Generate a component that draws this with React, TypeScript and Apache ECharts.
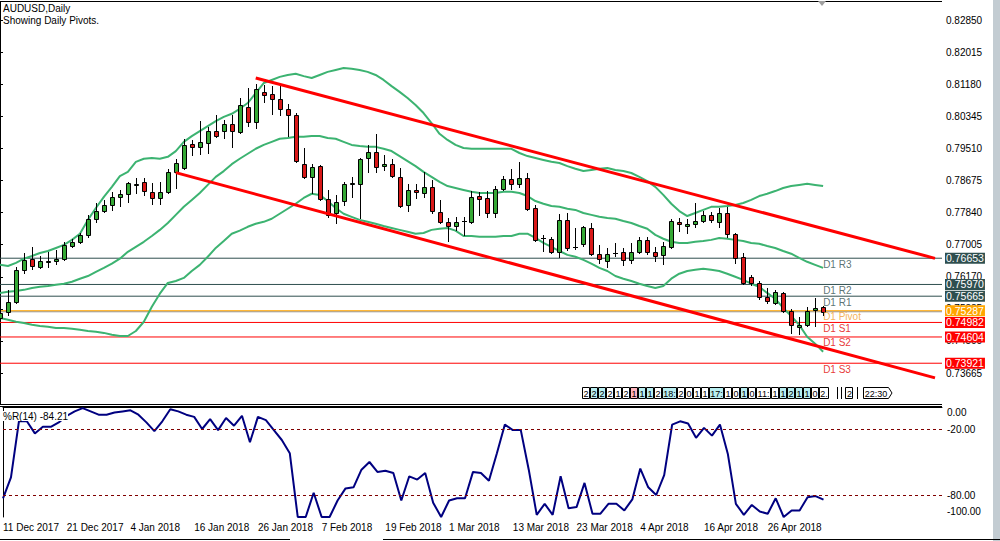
import { useEffect, useRef } from "react";
import * as echarts from "echarts";

const MONTHS = [
  { m: "Dec", y: 2017, days: [11, 12, 13, 14, 15, 18, 19, 20, 21, 22, 26, 27, 28, 29] },
  { m: "Jan", y: 2018, days: [2, 3, 4, 5, 8, 9, 10, 11, 12, 15, 16, 17, 18, 19, 22, 23, 24, 25, 26, 29, 30, 31] },
  { m: "Feb", y: 2018, days: [1, 2, 5, 6, 7, 8, 9, 12, 13, 14, 15, 16, 19, 20, 21, 22, 23, 26, 27, 28] },
  { m: "Mar", y: 2018, days: [1, 2, 5, 6, 7, 8, 9, 12, 13, 14, 15, 16, 19, 20, 21, 22, 23, 26, 27, 28, 29, 30] },
  { m: "Apr", y: 2018, days: [2, 3, 4, 5, 6, 9, 10, 11, 12, 13, 16, 17, 18, 19, 20, 23, 24, 25, 26, 27, 30] },
  { m: "May", y: 2018, days: [1, 2, 3, 4, 7] },
];
const DATES: string[] = MONTHS.flatMap((mo) => mo.days.map((d) => `${d} ${mo.m} ${mo.y}`));

// [open, high, low, close]
const OHLC: number[][] = [
  [0.7510, 0.7541, 0.7505, 0.7523], [0.7526, 0.7583, 0.7518, 0.7552], [0.7552, 0.7643, 0.7549, 0.7635], [0.7635, 0.7679, 0.7627, 0.7661],
  [0.7664, 0.7695, 0.7638, 0.7645], [0.7643, 0.7671, 0.7640, 0.7658], [0.7656, 0.7682, 0.7643, 0.7658], [0.7658, 0.7687, 0.7651, 0.7664],
  [0.7664, 0.7708, 0.7661, 0.7700], [0.7697, 0.7716, 0.7695, 0.7708], [0.7708, 0.7731, 0.7705, 0.7726], [0.7726, 0.7778, 0.7721, 0.7768],
  [0.7768, 0.7809, 0.7760, 0.7788], [0.7788, 0.7817, 0.7786, 0.7804], [0.7804, 0.7838, 0.7791, 0.7825], [0.7825, 0.7843, 0.7801, 0.7833],
  [0.7833, 0.7864, 0.7812, 0.7861], [0.7856, 0.7874, 0.7835, 0.7859], [0.7864, 0.7874, 0.7830, 0.7840], [0.7838, 0.7861, 0.7807, 0.7822],
  [0.7822, 0.7864, 0.7807, 0.7838], [0.7838, 0.7898, 0.7835, 0.7890], [0.7890, 0.7924, 0.7848, 0.7913], [0.7900, 0.7976, 0.7898, 0.7960],
  [0.7962, 0.7973, 0.7934, 0.7955], [0.7955, 0.8022, 0.7937, 0.7968], [0.7965, 0.8007, 0.7939, 0.7996], [0.7996, 0.8038, 0.7981, 0.7983],
  [0.7996, 0.8025, 0.7978, 0.8015], [0.8015, 0.8038, 0.7955, 0.7996], [0.7994, 0.8082, 0.7991, 0.8064], [0.8059, 0.8108, 0.8009, 0.8020],
  [0.8020, 0.8119, 0.8004, 0.8106], [0.8098, 0.8116, 0.8072, 0.8090], [0.8093, 0.8114, 0.8041, 0.8080], [0.8080, 0.8114, 0.8038, 0.8054],
  [0.8054, 0.8067, 0.7983, 0.8038], [0.8038, 0.8043, 0.7916, 0.7918], [0.7910, 0.7952, 0.7874, 0.7877], [0.7877, 0.7910, 0.7835, 0.7903],
  [0.7905, 0.7908, 0.7817, 0.7820], [0.7820, 0.7843, 0.7773, 0.7778], [0.7783, 0.7830, 0.7757, 0.7812], [0.7814, 0.7864, 0.7804, 0.7859],
  [0.7858, 0.7877, 0.7825, 0.7860], [0.7859, 0.7926, 0.7770, 0.7924], [0.7926, 0.7960, 0.7890, 0.7942], [0.7942, 0.7989, 0.7890, 0.7903],
  [0.7905, 0.7934, 0.7895, 0.7910], [0.7910, 0.7924, 0.7877, 0.7879], [0.7877, 0.7900, 0.7799, 0.7801], [0.7804, 0.7859, 0.7788, 0.7843],
  [0.7843, 0.7859, 0.7822, 0.7838], [0.7835, 0.7890, 0.7825, 0.7851], [0.7851, 0.7869, 0.7783, 0.7788], [0.7786, 0.7817, 0.7757, 0.7760],
  [0.7760, 0.7770, 0.7710, 0.7749], [0.7749, 0.7773, 0.7739, 0.7760], [0.7763, 0.7773, 0.7726, 0.7762], [0.7760, 0.7840, 0.7757, 0.7825],
  [0.7827, 0.7838, 0.7778, 0.7820], [0.7822, 0.7840, 0.7773, 0.7783], [0.7783, 0.7853, 0.7773, 0.7846], [0.7846, 0.7879, 0.7843, 0.7872],
  [0.7872, 0.7898, 0.7846, 0.7859], [0.7859, 0.7916, 0.7851, 0.7874], [0.7874, 0.7887, 0.7791, 0.7794], [0.7796, 0.7804, 0.7710, 0.7713],
  [0.7717, 0.7726, 0.7684, 0.7719], [0.7716, 0.7721, 0.7679, 0.7682], [0.7682, 0.7780, 0.7669, 0.7765], [0.7765, 0.7783, 0.7687, 0.7692],
  [0.7695, 0.7744, 0.7690, 0.7694], [0.7703, 0.7749, 0.7697, 0.7747], [0.7744, 0.7757, 0.7674, 0.7677], [0.7677, 0.7700, 0.7653, 0.7664],
  [0.7658, 0.7692, 0.7643, 0.7677], [0.7679, 0.7705, 0.7671, 0.7680], [0.7682, 0.7692, 0.7648, 0.7661], [0.7661, 0.7705, 0.7653, 0.7682],
  [0.7682, 0.7721, 0.7679, 0.7713], [0.7713, 0.7721, 0.7677, 0.7682], [0.7682, 0.7695, 0.7658, 0.7671], [0.7674, 0.7708, 0.7651, 0.7697],
  [0.7695, 0.7768, 0.7692, 0.7762], [0.7760, 0.7770, 0.7737, 0.7755], [0.7749, 0.7768, 0.7731, 0.7755], [0.7755, 0.7809, 0.7747, 0.7762],
  [0.7762, 0.7788, 0.7760, 0.7778], [0.7778, 0.7786, 0.7760, 0.7765], [0.7760, 0.7796, 0.7747, 0.7783], [0.7783, 0.7799, 0.7721, 0.7729],
  [0.7729, 0.7731, 0.7653, 0.7666], [0.7669, 0.7679, 0.7599, 0.7601], [0.7617, 0.7622, 0.7596, 0.7601], [0.7601, 0.7606, 0.7560, 0.7565],
  [0.7565, 0.7588, 0.7549, 0.7554], [0.7549, 0.7583, 0.7547, 0.7578], [0.7575, 0.7578, 0.7526, 0.7528], [0.7528, 0.7534, 0.7471, 0.7492],
  [0.7487, 0.7513, 0.7469, 0.7492], [0.7492, 0.7539, 0.7489, 0.7528], [0.7531, 0.7562, 0.7489, 0.7536], [0.7539, 0.7541, 0.7518, 0.7526],
];

const BB_UPPER = [
  0.7648, 0.7645, 0.7653, 0.7664, 0.7671, 0.7679, 0.7684, 0.7692, 0.7700, 0.7713,
  0.7729, 0.7765, 0.7796, 0.7825, 0.7851, 0.7879, 0.7890, 0.7916, 0.7924, 0.7926,
  0.7924, 0.7929, 0.7944, 0.7968, 0.7983, 0.7996, 0.8009, 0.8022, 0.8033, 0.8041,
  0.8054, 0.8069, 0.8095, 0.8121, 0.8129, 0.8137, 0.8142, 0.8145, 0.8139, 0.8134,
  0.8142, 0.8150, 0.8155, 0.8160, 0.8158, 0.8155, 0.8150, 0.8142, 0.8129, 0.8113,
  0.8098, 0.8082, 0.8064, 0.8043, 0.8017, 0.7989, 0.7973, 0.7960, 0.7952, 0.7950,
  0.7950, 0.7950, 0.7950, 0.7950, 0.7950, 0.7939, 0.7931, 0.7926, 0.7921, 0.7916,
  0.7913, 0.7905, 0.7898, 0.7892, 0.7895, 0.7898, 0.7900, 0.7895, 0.7892, 0.7887,
  0.7877, 0.7866, 0.7851, 0.7830, 0.7807, 0.7788, 0.7775, 0.7783, 0.7791, 0.7799,
  0.7799, 0.7801, 0.7804, 0.7809, 0.7817, 0.7827, 0.7833, 0.7840, 0.7848, 0.7853,
  0.7856, 0.7859, 0.7856, 0.7853,
];
const BB_MIDDLE = [
  0.7575, 0.7578, 0.7580, 0.7583, 0.7588, 0.7591, 0.7593, 0.7596, 0.7599, 0.7604,
  0.7612, 0.7619, 0.7630, 0.7640, 0.7651, 0.7664, 0.7682, 0.7695, 0.7708, 0.7723,
  0.7739, 0.7757, 0.7778, 0.7799, 0.7817, 0.7835, 0.7856, 0.7877, 0.7892, 0.7910,
  0.7924, 0.7937, 0.7950, 0.7960, 0.7968, 0.7976, 0.7978, 0.7981, 0.7981, 0.7983,
  0.7983, 0.7978, 0.7976, 0.7968, 0.7960, 0.7957, 0.7955, 0.7955, 0.7950, 0.7944,
  0.7931, 0.7918, 0.7905, 0.7890, 0.7877, 0.7864, 0.7853, 0.7848, 0.7843, 0.7838,
  0.7835, 0.7835, 0.7835, 0.7838, 0.7838, 0.7835, 0.7827, 0.7814, 0.7807, 0.7801,
  0.7799, 0.7794, 0.7791, 0.7783, 0.7778, 0.7773, 0.7770, 0.7768, 0.7762, 0.7757,
  0.7749, 0.7742, 0.7726, 0.7716, 0.7708, 0.7705, 0.7705, 0.7708, 0.7710, 0.7713,
  0.7718, 0.7716, 0.7713, 0.7710, 0.7705, 0.7703, 0.7697, 0.7692, 0.7684, 0.7677,
  0.7666, 0.7656, 0.7648, 0.7640,
];
const BB_LOWER = [
  0.7510, 0.7505, 0.7500, 0.7497, 0.7492, 0.7489, 0.7487, 0.7484, 0.7484, 0.7482,
  0.7479, 0.7476, 0.7474, 0.7471, 0.7466, 0.7463, 0.7463, 0.7476, 0.7500, 0.7539,
  0.7573, 0.7601, 0.7606, 0.7614, 0.7632, 0.7648, 0.7669, 0.7692, 0.7710, 0.7729,
  0.7737, 0.7747, 0.7755, 0.7760, 0.7768, 0.7781, 0.7794, 0.7807, 0.7822, 0.7833,
  0.7830, 0.7814, 0.7796, 0.7781, 0.7773, 0.7765, 0.7760, 0.7755, 0.7749, 0.7744,
  0.7739, 0.7734, 0.7729, 0.7731, 0.7739, 0.7742, 0.7744, 0.7737, 0.7723, 0.7723,
  0.7721, 0.7721, 0.7721, 0.7723, 0.7723, 0.7729, 0.7729, 0.7718, 0.7705, 0.7695,
  0.7684, 0.7674, 0.7669, 0.7661, 0.7651, 0.7640, 0.7632, 0.7619, 0.7612, 0.7606,
  0.7599, 0.7593, 0.7588, 0.7593, 0.7612, 0.7625, 0.7632, 0.7635, 0.7638, 0.7635,
  0.7632, 0.7625, 0.7617, 0.7609, 0.7599, 0.7591, 0.7575, 0.7560, 0.7536, 0.7515,
  0.7492, 0.7461, 0.7443, 0.7422,
];

const WPR = [
  -83, -64, -13, -13, -24, -18, -18, -14, -8, -4,
  -1, -4, -7, -7, -5, -4, -3, -7, -14, -22,
  -13, -2, -4, -7, -9, -20, -11, -21, -10, -17,
  -8, -32, -9, -12, -21, -30, -42, -100, -100, -78,
  -100, -100, -85, -74, -73, -57, -50, -59, -58, -60,
  -85, -63, -66, -60, -87, -100, -85, -83, -83, -59,
  -60, -67, -42, -16, -21, -21, -57, -98, -88, -98,
  -63, -92, -91, -69, -97, -97, -88, -88, -94, -84,
  -56, -73, -80, -62, -16, -13, -15, -28, -19, -26,
  -16, -43, -88, -98, -89, -95, -97, -83, -100, -94,
  -94, -82, -81, -84.21,
];
const WPR_LEVELS = [-20, -80];
const WPR_TICKS = [0, -20, -80, -100];

const PIVOT_NAMES = ["D1 R3", "D1 R2", "D1 R1", "D1 Pivot", "D1 S1", "D1 S2", "D1 S3"];
const PIVOT_VALUES = [0.76653, 0.7597, 0.75665, 0.75287, 0.74982, 0.74604, 0.73921];
const PIVOT_COLORS = ["#2F4F4F", "#2F4F4F", "#2F4F4F", "#FFA500", "#FF0000", "#FF0000", "#FF0000"];
const PIVOT_TEXT_COLORS = ["#2F4F4F", "#2F4F4F", "#2F4F4F", "#F0A030", "#E00000", "#E00000", "#E00000"];
const BID = 0.7526;

const PRICE_TICKS = [0.73665, 0.745, 0.75335, 0.7617, 0.77005, 0.7784, 0.78675, 0.7951, 0.80345, 0.8118, 0.82015, 0.8285];

const CHANNEL_UPPER = [[32, 0.8134], [117, 0.7665]];
const CHANNEL_LOWER = [[22, 0.7888], [117, 0.7354]];

const TIMER_CELLS: [string, string][] = [
  ["2", "w"], ["2", "c"], ["2", "c"], ["2", "w"], ["1", "w"], ["2", "w"], ["1", "p"], ["1", "c"], ["1", "c"], ["2", "w"],
  ["18:", "c"], ["2", "w"], ["0", "w"], ["1", "w"], ["1", "w"], ["17:", "c"], ["1", "w"], ["0", "w"], ["1", "c"], ["0", "w"],
  ["11:", "w"], ["1", "w"], ["1", "c"], ["2", "c"], ["1", "c"], ["1", "c"], ["0", "w"], ["2.", "w"],
];

const FONT = "Liberation Sans, Arial, sans-serif";
const UP = "#35A835";
const DOWN = "#D81818";
const X_MAX = 117.875;

function buildTimer(): any[] {
  const out: any[] = [];
  let x = 582;
  const y = 387;
  const fills: Record<string, string> = { w: "#FFFFFF", c: "#B8EEF0", p: "#FFB4BC" };
  for (const [t, k] of TIMER_CELLS) {
    const w = t.length === 1 ? 8 : t.length === 2 ? 10 : 15;
    out.push({ type: "rect", shape: { x: x + 0.5, y: y + 0.5, width: w - 1, height: 11 }, style: { fill: fills[k], stroke: "#000", lineWidth: 1 }, z: 100 });
    out.push({ type: "text", x: x + w / 2, y: y + 6.5, style: { text: t, fill: "#000", font: `9px ${FONT}`, textAlign: "center", textVerticalAlign: "middle" }, z: 101 });
    x += w;
  }
  out.push({ type: "line", shape: { x1: 837.5, y1: 387, x2: 837.5, y2: 399 }, style: { stroke: "#000", lineWidth: 1 }, z: 100 });
  out.push({ type: "line", shape: { x1: 841.5, y1: 387, x2: 841.5, y2: 399 }, style: { stroke: "#000", lineWidth: 1 }, z: 100 });
  out.push({ type: "rect", shape: { x: 845.5, y: 387.5, width: 7, height: 11 }, style: { fill: "#fff", stroke: "#000", lineWidth: 1 }, z: 100 });
  out.push({ type: "text", x: 849.5, y: 393.5, style: { text: "2", fill: "#000", font: `9px ${FONT}`, textAlign: "center", textVerticalAlign: "middle" }, z: 101 });
  out.push({ type: "line", shape: { x1: 857.5, y1: 387, x2: 857.5, y2: 399 }, style: { stroke: "#000", lineWidth: 1 }, z: 100 });
  out.push({ type: "polygon", shape: { points: [[863.5, 387.5], [888.5, 387.5], [892, 393], [888.5, 398.5], [863.5, 398.5]] }, style: { fill: "#fff", stroke: "#000", lineWidth: 1 }, z: 100 });
  out.push({ type: "text", x: 876, y: 393.5, style: { text: "22:30", fill: "#000", font: `9px ${FONT}`, textAlign: "center", textVerticalAlign: "middle" }, z: 101 });
  return out;
}

function levelSeries(v: number, color: string, withLabel: boolean, z: number, width = 1): any {
  return {
    type: "line", xAxisIndex: 0, yAxisIndex: 0, data: [[0, v], [X_MAX, v]], symbol: "none", silent: true, z,
    lineStyle: { color, width, type: "solid" },
    endLabel: withLabel
      ? {
          show: true, distance: 3, formatter: () => v.toFixed(5), color: "#fff", backgroundColor: color,
          padding: [1, 1, 0, 1], fontSize: 10.5, lineHeight: 10, fontFamily: FONT,
        }
      : { show: false },
  };
}

export default function App() {
  const ref = useRef<HTMLDivElement>(null);
  useEffect(() => {
    if (!ref.current) return;
    const chart = echarts.init(ref.current, null, { renderer: "svg" });
    const candleData = OHLC.map((r, i) => [i, r[0], r[1], r[2], r[3]]);
    const option: any = {
      animation: false,
      backgroundColor: "#ffffff",
      textStyle: { fontFamily: FONT },
      grid: [
        { left: -1, right: 58, top: 2, height: 402 },
        { left: -1, right: 58, top: 407, height: 110 },
      ],
      xAxis: [
        { type: "value", gridIndex: 0, min: 0, max: X_MAX, show: false },
        {
          type: "value", gridIndex: 1, min: 0, max: X_MAX, interval: 8,
          axisLine: { show: true, lineStyle: { color: "#000", width: 1 } },
          axisTick: { show: false }, splitLine: { show: false },
          axisLabel: {
            show: true, align: "left", margin: 5, fontSize: 10, color: "#000", fontFamily: FONT,
            formatter: (v: number) => (Number.isInteger(v) && DATES[v] ? DATES[v] : ""),
          },
        },
      ],
      yAxis: [
        {
          type: "value", gridIndex: 0, position: "right", min: 0.728604, max: 0.833183, scale: true,
          axisLine: { show: true, lineStyle: { color: "#000", width: 1 } },
          axisTick: { show: true, length: 3, lineStyle: { color: "#000" }, customValues: PRICE_TICKS },
          splitLine: { show: false },
          axisLabel: { show: true, customValues: PRICE_TICKS, margin: 4, fontSize: 10, color: "#000", fontFamily: FONT, formatter: (v: number) => v.toFixed(5) },
        },
        {
          type: "value", gridIndex: 1, position: "right", min: -100, max: 0,
          axisLine: { show: true, lineStyle: { color: "#000", width: 1 } },
          axisTick: { show: false }, splitLine: { show: false },
          axisLabel: {
            show: true, customValues: WPR_TICKS, margin: 5, fontSize: 10, color: "#000", fontFamily: FONT, lineHeight: 11,
            formatter: (v: number) => (v === 0 ? "\n0.00" : v === -100 ? "-100.00\n" : v.toFixed(2)),
          },
        },
      ],
      series: [
        levelSeries(BID, "#8C8C8C", false, 1),
        ...PIVOT_VALUES.map((v, k) => levelSeries(v, PIVOT_COLORS[k], true, 1)),
        {
          type: "line", name: "bbU", xAxisIndex: 0, yAxisIndex: 0, data: BB_UPPER.map((v, i) => [i, v]),
          symbol: "none", lineStyle: { color: "#3CB371", width: 2 }, z: 2, silent: true,
        },
        {
          type: "line", name: "bbM", xAxisIndex: 0, yAxisIndex: 0, data: BB_MIDDLE.map((v, i) => [i, v]),
          symbol: "none", lineStyle: { color: "#3CB371", width: 2 }, z: 2, silent: true,
        },
        {
          type: "line", name: "bbL", xAxisIndex: 0, yAxisIndex: 0, data: BB_LOWER.map((v, i) => [i, v]),
          symbol: "none", lineStyle: { color: "#3CB371", width: 2 }, z: 2, silent: true,
        },
        {
          type: "custom", name: "candles", xAxisIndex: 0, yAxisIndex: 0, data: candleData, z: 4, silent: true,
          encode: { x: 0, y: [1, 2, 3, 4] },
          renderItem: (_p: any, api: any) => {
            const i = api.value(0);
            const o = api.value(1), h = api.value(2), l = api.value(3), c = api.value(4);
            const x = api.coord([i, o])[0];
            const yo = api.coord([i, o])[1];
            const yc = api.coord([i, c])[1];
            const yh = api.coord([i, h])[1];
            const yl = api.coord([i, l])[1];
            const cx = Math.round(x);
            const top = Math.round(Math.min(yo, yc));
            const bot = Math.round(Math.max(yo, yc));
            const up = c >= o;
            const children: any[] = [
              { type: "line", shape: { x1: cx + 0.5, y1: Math.round(yh), x2: cx + 0.5, y2: Math.round(yl) + 1 }, style: { stroke: "#000", lineWidth: 1 } },
            ];
            if (bot - top >= 1) {
              children.push({ type: "rect", shape: { x: cx - 1.5, y: top + 0.5, width: 4, height: bot - top }, style: { fill: up ? UP : DOWN, stroke: "#000", lineWidth: 1 } });
            } else {
              children.push({ type: "line", shape: { x1: cx - 2, y1: top + 0.5, x2: cx + 3, y2: top + 0.5 }, style: { stroke: "#000", lineWidth: 1 } });
            }
            return { type: "group", children };
          },
        },
        {
          type: "line", name: "chanU", xAxisIndex: 0, yAxisIndex: 0, data: CHANNEL_UPPER,
          symbol: "none", lineStyle: { color: "#FF0000", width: 3 }, z: 5, silent: true,
        },
        {
          type: "line", name: "chanL", xAxisIndex: 0, yAxisIndex: 0, data: CHANNEL_LOWER,
          symbol: "none", lineStyle: { color: "#FF0000", width: 3 }, z: 5, silent: true,
        },
        {
          type: "scatter", name: "pivotNames", xAxisIndex: 0, yAxisIndex: 0, symbol: "circle", symbolSize: 0, z: 6, silent: true,
          data: PIVOT_NAMES.map((n, k) => ({ name: n, value: [103, PIVOT_VALUES[k]], label: { color: PIVOT_TEXT_COLORS[k] } })),
          label: { show: true, position: [0, 1], formatter: "{b}", fontSize: 10, fontFamily: FONT, align: "left", verticalAlign: "top" },
        },
        {
          type: "line", name: "wpr", xAxisIndex: 1, yAxisIndex: 1, data: WPR.map((v, i) => [i, v]),
          symbol: "none", lineStyle: { color: "#000080", width: 2 }, z: 3, silent: true,
          markLine: {
            symbol: ["none", "none"], silent: true, animation: false, label: { show: false },
            data: WPR_LEVELS.map((v) => ({ yAxis: v })),
            lineStyle: { color: "#800000", width: 1, type: [3, 3] },
          },
        },
      ],
      graphic: [
        { type: "line", shape: { x1: 0, y1: 1.5, x2: 942, y2: 1.5 }, style: { stroke: "#000", lineWidth: 1 }, z: 100 },
        { type: "line", shape: { x1: 0, y1: 404.5, x2: 942, y2: 404.5 }, style: { stroke: "#000", lineWidth: 1 }, z: 100 },
        { type: "line", shape: { x1: 0, y1: 406.5, x2: 942, y2: 406.5 }, style: { stroke: "#000", lineWidth: 1 }, z: 100 },
        { type: "polygon", shape: { points: [[818, 1], [826, 1], [822, 6]] }, style: { fill: "#A0A0A0" }, z: 100 },
        { type: "rect", shape: { x: 993, y: 0, width: 7, height: 541 }, style: { fill: "#C3CCD2" }, z: 100 },
        { type: "line", shape: { x1: 0, y1: 539.5, x2: 290, y2: 539.5 }, style: { stroke: "#000", lineWidth: 1 }, z: 100 },
        { type: "line", shape: { x1: 383, y1: 539.5, x2: 1000, y2: 539.5 }, style: { stroke: "#000", lineWidth: 1 }, z: 100 },
        { type: "text", x: 3, y: 3, style: { text: "AUDUSD,Daily", fill: "#000", font: `10px ${FONT}` }, z: 100 },
        { type: "text", x: 3, y: 15, style: { text: "Showing Daily Pivots.", fill: "#000", font: `10px ${FONT}` }, z: 100 },
        {
          type: "text", x: 3, y: 411,
          style: { text: "%R(14) -84.21", fill: "#000", font: `10px ${FONT}`, backgroundColor: "#fff" }, z: 100,
        },
        ...buildTimer(),
      ],
    };
    chart.setOption(option);
    return () => chart.dispose();
  }, []);
  return <div ref={ref} style={{ position: "fixed", left: 0, top: 0, width: 1000, height: 541 }} />;
}
